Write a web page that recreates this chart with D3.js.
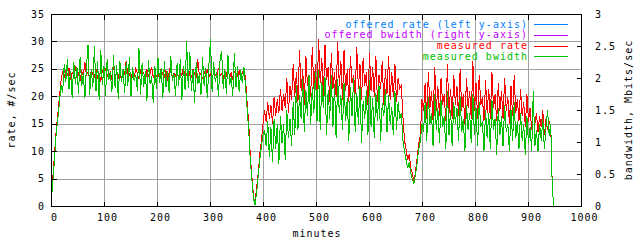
<!DOCTYPE html>
<html>
<head>
<meta charset="utf-8">
<script src="https://cdn.jsdelivr.net/npm/d3@7"></script>
<style>
  html, body { margin: 0; padding: 0; background: #fff; }
  svg { display: block; }
  text { font-family: "DejaVu Sans Mono", monospace; font-size: 10px; letter-spacing: 1px; fill: #000; }
</style>
</head>
<body>
<div id="chart"></div>
<script>
// one sample every STEP_MIN minutes, starting at minute 0
const STEP_MIN = 3;

// measured rate, #/sec (left y-axis)
const measuredRate = [
  // 0..18 ramp up
  2, 6, 10, 14, 17, 20, 23,
  // 21..363 plateau
  24.6, 23.4, 24.9, 23.8, 25.2, 23.1, 24.4, 24.0, 25.6, 23.5,
  24.2, 22.9, 24.8, 23.7, 26.3, 23.9, 24.5, 23.2, 24.7, 24.1,
  23.6, 25.0, 23.3, 24.4, 22.7, 24.9, 23.8, 25.3, 24.0, 23.4,
  24.6, 23.1, 25.8, 23.9, 24.3, 23.5, 24.8, 22.8, 24.5, 24.1,
  26.6, 23.7, 24.2, 23.0, 24.9, 23.6, 25.1, 24.3, 23.2, 24.7,
  23.9, 24.4, 22.6, 25.0, 23.8, 24.2, 25.5, 23.4, 24.6, 23.7,
  24.1, 23.3, 25.2, 24.0, 23.6, 24.8, 22.9, 24.4, 26.0, 23.5,
  24.3, 23.8, 24.9, 23.1, 24.5, 23.9, 25.4, 23.6, 24.2, 22.8,
  24.7, 23.4, 25.0, 24.1, 23.7, 26.8, 23.9, 24.3, 23.2, 24.6,
  23.8, 25.1, 23.5, 24.4, 22.7, 24.9, 24.0, 23.6, 25.3, 23.9,
  24.2, 23.3, 24.8, 23.7, 25.6, 23.4, 24.5, 23.0, 24.6,
  24.1, 23.8, 24.7, 23.5, 24.3, 25.0,
  // 366..399 first dip
  23.5, 19.0, 15.5, 9.5, 5.5, 2.0, 0.5, 3.5, 6.0, 9.5, 12.0, 15.0,
  // 402..657
  17.5, 15.5, 19.0, 16.0, 18.5, 15.0, 20.0, 16.5, 19.5, 17.0,
  21.5, 17.5, 20.5, 18.0, 23.5, 17.0, 22.0, 19.5, 26.0, 20.0,
  24.5, 19.0, 28.5, 21.0, 25.0, 18.5, 27.5, 22.0, 24.0, 20.0,
  29.0, 21.5, 26.0, 19.5, 30.5, 22.5, 27.0, 20.0, 29.5, 23.0,
  25.5, 19.0, 28.0, 21.5, 24.5, 20.0, 30.0, 22.0, 26.5, 19.5,
  28.5, 21.0, 25.0, 19.0, 27.5, 22.5, 24.0, 20.5, 29.0, 21.5,
  26.0, 19.5, 27.0, 22.0, 24.5, 18.5, 28.0, 21.0, 25.5, 20.0,
  27.5, 19.0, 24.0, 21.5, 26.5, 18.5, 25.0, 20.5, 27.5, 19.5,
  24.5, 20.0, 26.0, 19.0, 23.5, 21.5,
  // 660..699 second dip
  22.0, 16.5, 12.0, 10.5, 8.5, 9.5, 7.0, 6.0, 4.5, 6.5, 9.0, 11.5, 13.0, 19.5,
  // 702..942
  17.5, 22.5, 16.0, 24.5, 18.0, 21.0, 15.5, 25.5, 17.5, 22.0,
  16.5, 23.5, 18.5, 20.5, 15.5, 26.0, 17.0, 21.5, 16.0, 24.0,
  18.5, 22.0, 16.5, 25.0, 17.5, 20.5, 15.0, 23.5, 18.0, 21.0,
  16.0, 26.5, 17.5, 22.5, 16.0, 24.0, 18.5, 20.0, 15.5, 23.0,
  17.0, 21.5, 16.0, 24.5, 18.0, 20.5, 15.5, 22.5, 17.5, 21.0,
  16.0, 23.5, 17.5, 20.0, 15.0, 22.0, 16.5, 24.0, 17.0, 19.5,
  15.5, 21.5, 16.5, 19.0, 14.5, 20.5, 15.5, 18.0, 14.0, 17.5,
  15.0, 17.0, 13.5, 16.5, 14.5, 17.5, 13.0, 16.0, 14.0, 15.5,
  14.5,
  // 945..948 end
  3, 0
];

// measured bandwidth, Mbits/sec (right y-axis)
const measuredBwidth = [
  0.13, 0.43, 0.77, 1.16, 1.37, 1.63, 1.89,
  1.78, 2.22, 1.95, 2.30, 1.84, 2.12, 1.70, 2.26, 1.92, 2.18,
  1.76, 2.34, 1.88, 2.08, 1.69, 2.20, 2.53, 1.74, 2.15, 1.86,
  2.50, 1.80, 2.27, 1.66, 2.44, 1.90, 2.19, 1.73, 2.31, 1.97,
  2.10, 1.79, 2.36, 1.85, 2.21, 1.68, 2.28, 1.94, 2.14, 1.77,
  2.25, 1.89, 2.33, 1.72, 2.18, 1.96, 2.06, 1.81, 2.47, 1.75,
  2.24, 1.87, 2.12, 1.65, 2.29, 1.91, 2.03, 1.61, 2.20, 1.84,
  2.32, 1.93, 2.16, 1.70, 2.27, 1.86, 2.11, 1.78, 2.35, 1.96,
  2.08, 1.73, 2.24, 1.89, 2.30, 1.67, 2.19, 1.82, 2.59, 1.85,
  2.42, 1.80, 2.14, 1.62, 2.26, 1.91, 2.07, 1.74, 2.33, 1.88,
  2.17, 1.69, 2.21, 2.61, 1.79, 2.25, 1.94, 2.10, 1.71, 2.29,
  2.43, 1.83, 2.15, 1.76, 2.36, 1.90, 2.02, 1.72, 2.40, 1.86,
  2.20, 1.79, 2.13, 1.93, 2.18,
  1.89, 1.54, 1.20, 0.73, 0.43, 0.13, 0.03, 0.21, 0.47, 0.73, 0.94, 1.11,
  1.20, 0.94, 1.33, 0.77, 1.24, 0.69, 1.37, 0.90, 1.29, 0.66,
  1.41, 0.99, 1.29, 0.73, 1.50, 1.07, 1.37, 0.94, 1.63, 1.11,
  1.90, 1.20, 1.74, 1.37, 1.99, 1.16, 1.82, 1.41, 2.06, 1.29,
  1.86, 1.46, 2.10, 1.33, 2.14, 1.20, 1.95, 1.54, 2.03, 1.11,
  1.82, 1.37, 2.06, 1.24, 1.91, 1.07, 1.99, 1.46, 1.74, 1.20,
  1.93, 1.33, 1.69, 1.03, 1.86, 1.41, 2.01, 1.16, 1.78, 1.29,
  1.89, 0.99, 1.65, 1.37, 1.82, 1.11, 1.97, 1.24, 1.69, 1.07,
  1.78, 1.33, 1.89, 1.03, 1.61, 1.41, 1.84, 1.16, 1.74, 1.29,
  1.56, 1.11, 1.80, 1.20, 1.63, 1.37,
  1.46, 1.03, 0.86, 0.73, 0.60, 0.69, 0.51, 0.43, 0.36, 0.51, 0.69, 0.90, 1.03, 1.29,
  1.16, 1.63, 1.03, 1.71, 1.29, 1.46, 0.94, 1.76, 1.20, 1.54,
  0.99, 1.67, 1.24, 1.41, 0.90, 1.80, 1.11, 1.50, 0.94, 1.63,
  1.29, 1.54, 1.03, 1.71, 1.16, 1.37, 0.86, 1.59, 1.20, 1.46,
  0.99, 1.76, 1.11, 1.54, 0.94, 1.63, 1.24, 1.33, 0.86, 1.50,
  1.07, 1.46, 0.90, 1.67, 1.20, 1.37, 0.81, 1.54, 1.11, 1.41,
  0.94, 1.59, 1.16, 1.29, 0.86, 1.50, 1.03, 1.63, 1.07, 1.33,
  0.90, 1.46, 1.03, 1.29, 0.81, 1.41, 0.99, 1.24, 0.86, 1.80,
  0.94, 1.20, 0.86, 1.29, 1.03, 1.37, 0.90, 1.24, 1.50, 1.11,
  1.29,
  0.25, 0
];

// offered values lie under the measured ones almost everywhere
const offeredRate = measuredRate;
const offeredBwidth = measuredBwidth;

const xTicks = [0, 100, 200, 300, 400, 500, 600, 700, 800, 900, 1000];
const yTicks = [0, 5, 10, 15, 20, 25, 30, 35];
const y2Ticks = [0, 0.5, 1, 1.5, 2, 2.5, 3];

(function () {
  const W = 640, H = 240;
  const PLOT = { left: 51, right: 581, top: 14, bottom: 206 };
  const TICK = 5;
  const GRID = '#a0a0a0';

  const SERIES = [
    { label: 'offered rate (left y-axis)',    color: '#0080ff', data: offeredRate,    axis: 'y'  },
    { label: 'offered bwidth (right y-axis)', color: '#c000ff', data: offeredBwidth,  axis: 'y2' },
    { label: 'measured rate',                 color: '#ff0000', data: measuredRate,   axis: 'y'  },
    { label: 'measured bwidth',               color: '#00c000', data: measuredBwidth, axis: 'y2' },
  ];

  const x  = d3.scaleLinear().domain([0, 1000]).range([PLOT.left, PLOT.right]);
  const y  = d3.scaleLinear().domain([0, 35]).range([PLOT.bottom, PLOT.top]);
  const y2 = d3.scaleLinear().domain([0, 3]).range([PLOT.bottom, PLOT.top]);

  const svg = d3.select('#chart').append('svg').attr('width', W).attr('height', H);
  svg.append('rect').attr('width', W).attr('height', H).attr('fill', '#fff');

  // crisp 1px lines
  const g = svg.append('g').attr('transform', 'translate(0.5,0.5)');

  // ----- grid -----
  const grid = g.append('g').attr('stroke', GRID).attr('shape-rendering', 'crispEdges');
  xTicks.filter(t => t > 0 && t < 1000).forEach(t => {
    grid.append('line').attr('x1', x(t)).attr('x2', x(t)).attr('y1', PLOT.top).attr('y2', PLOT.bottom);
  });
  yTicks.filter(t => t > 0 && t < 35).forEach(t => {
    grid.append('line').attr('x1', PLOT.left).attr('x2', PLOT.right).attr('y1', y(t)).attr('y2', y(t));
  });

  // ----- data lines (aliased, like the gnuplot png) -----
  const lines = g.append('g').attr('fill', 'none').attr('stroke-width', 1)
    .attr('shape-rendering', 'crispEdges');
  SERIES.forEach(s => {
    const sc = s.axis === 'y' ? y : y2;
    const line = d3.line().x((d, i) => x(i * STEP_MIN)).y(d => sc(d));
    lines.append('path').attr('d', line(s.data)).attr('stroke', s.color);
  });

  // ----- border + ticks -----
  const axes = g.append('g').attr('stroke', '#000').attr('shape-rendering', 'crispEdges');
  axes.append('rect')
    .attr('x', PLOT.left).attr('y', PLOT.top)
    .attr('width', PLOT.right - PLOT.left).attr('height', PLOT.bottom - PLOT.top)
    .attr('fill', 'none');
  xTicks.forEach(t => {
    axes.append('line').attr('x1', x(t)).attr('x2', x(t)).attr('y1', PLOT.bottom).attr('y2', PLOT.bottom - TICK);
    axes.append('line').attr('x1', x(t)).attr('x2', x(t)).attr('y1', PLOT.top).attr('y2', PLOT.top + TICK);
  });
  yTicks.forEach(t => {
    axes.append('line').attr('x1', PLOT.left).attr('x2', PLOT.left + TICK).attr('y1', y(t)).attr('y2', y(t));
  });
  y2Ticks.forEach(t => {
    axes.append('line').attr('x1', PLOT.right).attr('x2', PLOT.right - TICK).attr('y1', y2(t)).attr('y2', y2(t));
  });

  // ----- tick labels -----
  const labels = svg.append('g');
  xTicks.forEach(t => {
    labels.append('text').attr('x', x(t) + 3.5).attr('y', 221).attr('text-anchor', 'middle').text(t);
  });
  yTicks.forEach(t => {
    labels.append('text').attr('x', 45).attr('y', y(t) + 3.6).attr('text-anchor', 'end').text(t);
  });
  y2Ticks.forEach(t => {
    labels.append('text').attr('x', 595).attr('y', y2(t) + 3.6).attr('text-anchor', 'start').text(t);
  });

  // ----- axis titles -----
  labels.append('text').attr('x', 317).attr('y', 237).attr('text-anchor', 'middle').text('minutes');
  labels.append('text').attr('transform', 'translate(15,110) rotate(-90)')
    .attr('text-anchor', 'middle').text('rate, #/sec');
  labels.append('text').attr('transform', 'translate(632,110) rotate(-90)')
    .attr('text-anchor', 'middle').text('bandwidth, Mbits/sec');

  // ----- legend (top right, inside plot) -----
  const LEG = { textX: 528, lineX1: 534, lineX2: 568, y0: 24, dy: 10.8 };
  const leg = svg.append('g');
  SERIES.forEach((s, i) => {
    const cy = LEG.y0 + i * LEG.dy;
    leg.append('text').attr('x', LEG.textX).attr('y', cy + 3.6)
      .attr('text-anchor', 'end').style('fill', s.color).text(s.label);
    leg.append('line')
      .attr('x1', LEG.lineX1).attr('x2', LEG.lineX2)
      .attr('y1', Math.round(cy) + 0.5).attr('y2', Math.round(cy) + 0.5)
      .attr('stroke', s.color).attr('shape-rendering', 'crispEdges');
  });
})();
</script>
</body>
</html>
